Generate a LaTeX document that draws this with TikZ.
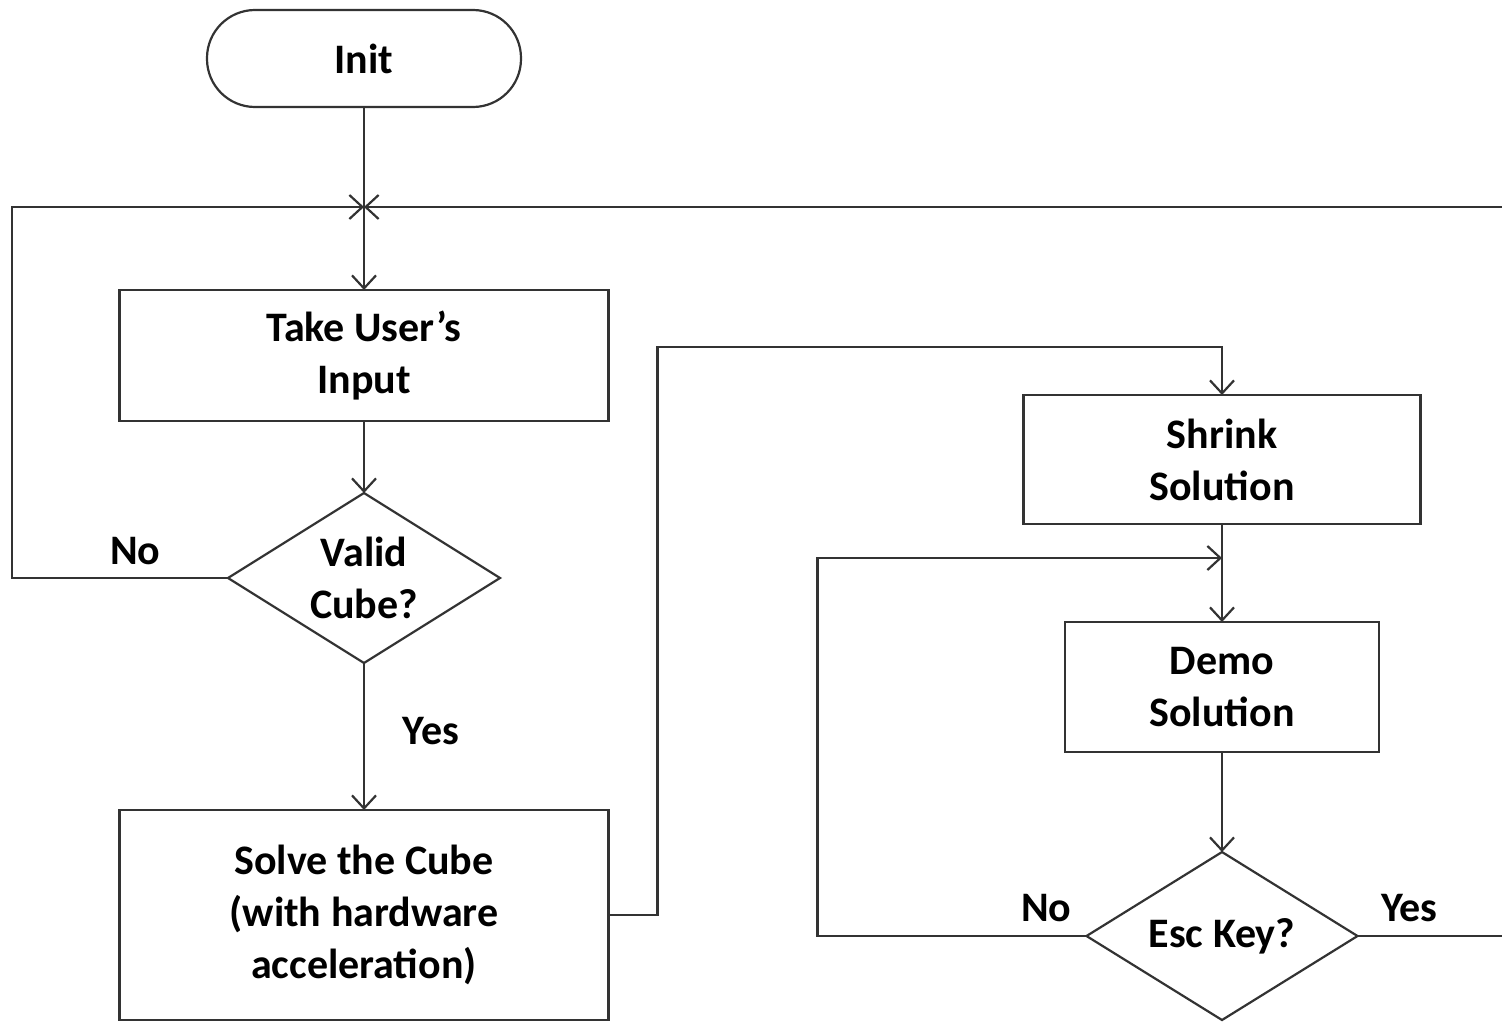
\documentclass[tikz,border=0pt]{standalone}
\usepackage{fontspec}
\setmainfont{Carlito}
\usetikzlibrary{arrows.meta,shapes.geometric}

\tikzset{
  >={Straight Barb[length=6.5pt,width=12pt]},
  procbox/.style={rectangle, draw, align=center},
  decision/.style={diamond, draw, inner sep=0},
}

\begin{document}
\begin{tikzpicture}[draw=black!80, line width=1.1pt, outer sep=0,
    font=\bfseries\fontsize{21}{26}\selectfont]
  \clip (0,0) rectangle (751pt,-511pt);

  \node[rectangle, draw,
    rounded corners=24pt,
    minimum height = 48.5pt,
    minimum width = 157pt] (init) at (182pt,-29.25pt) {Init};

  \node[procbox,
    minimum height = 65.5pt,
    minimum width = 244.5pt] (input) at ([yshift=-148.5pt]init.center) {Take User's\\Input};

  \node[decision,
    minimum height = 85pt,
    minimum width = 136pt] (valid) at ([yshift=-111.25pt]input.center) {};
  \node[align=center] (valid-text) at (valid.center) {Valid\\Cube?};

  \node[procbox,
    minimum height = 105pt,
    minimum width = 244.5pt] (solve) at ([yshift=-168.5pt]valid.center) {Solve the Cube\\(with hardware\\acceleration)};

  \node[procbox,
    minimum height = 64.5pt,
    minimum width = 198.5pt] (shrink) at ([xshift=429pt, yshift=-52pt]input.center) {Shrink\\Solution};

  \node[procbox,
    minimum height = 65pt,
    minimum width = 157pt] (demo) at ([yshift=-113.75pt]shrink.center) {Demo\\Solution};

  \node[decision,
    minimum height = 84pt,
    minimum width = 135.5pt] (esc) at ([yshift=-124.5pt]demo.center) {};
  \node[align=center] (esc-text) at (esc.center) {Esc Key?};

  % junctions and corners
  \coordinate (merge1) at ([yshift=-50pt]init.south);
  \coordinate (merge2) at ([yshift=-17pt]shrink.south);
  \coordinate (cross1) at ([xshift=-108pt]valid.west);
  \coordinate (cross2) at ([xshift=100pt]esc.east);
  \coordinate (cross3) at ([xshift=24.5pt]solve.east);
  \coordinate (cross4) at ([yshift=24pt]shrink.north);
  \coordinate (cross5) at ([xshift=-134.5pt]esc.west);

  \draw[->] (init.south) -- (input.north);
  \draw[->] (input.south) -- (valid.north);
  \draw[->] (valid.south) -- node[pos=0.46, right=16pt]{Yes} (solve.north);
  \draw[->] (valid.west) -- node[pos=0.43, above=3.5pt]{No} (cross1) -- (cross1 |- merge1) -- (merge1);

  \draw[->] (solve.east) -- (cross3) -- (cross3 |- cross4) -- (cross4) -- (shrink.north);
  \draw[->] (shrink.south) -- (demo.north);
  \draw[->] (demo.south) -- (esc.north);

  \draw[->] (esc.west) -- node[pos=0.15, above=4pt]{No} (cross5) -- (cross5 |- merge2) -- (merge2);
  \draw[->] (esc.east) -- node[pos=0.26, above=4pt]{Yes} (cross2) -- (cross2 |- merge1) -- (merge1);
\end{tikzpicture}
\end{document}
